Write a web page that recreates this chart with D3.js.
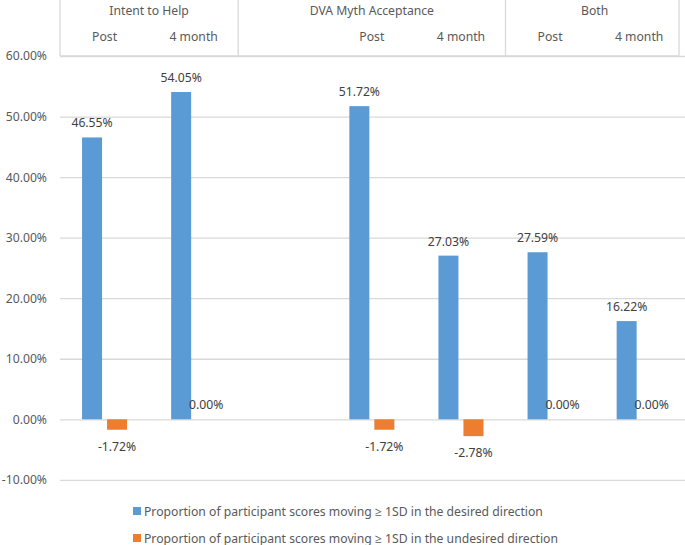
<!DOCTYPE html>
<html>
<head>
<meta charset="utf-8">
<script src="https://cdn.jsdelivr.net/npm/d3@7"></script>
<style>
  html, body { margin: 0; padding: 0; background: #fff; }
  svg { display: block; }
  text { font-family: "Noto Sans", "Open Sans", sans-serif; }
</style>
</head>
<body>
<svg id="chart" width="685" height="545"></svg>
<script>
// ---- data ----
const groups = ["Intent to Help", "DVA Myth Acceptance", "Both"];
const groupSpans = [2, 3, 2];
const categories = ["Post", "4 month", "", "Post", "4 month", "Post", "4 month"];
const desired = [0.4655, 0.5405, null, 0.5172, 0.2703, 0.2759, 0.1622];
const undesired = [-0.0172, 0.0000, null, -0.0172, -0.0278, 0.0000, 0.0000];
const yTicks = [-0.1, 0, 0.1, 0.2, 0.3, 0.4, 0.5, 0.6];
const seriesNames = [
  "Proportion of participant scores moving \u2265 1SD in the desired direction",
  "Proportion of participant scores moving \u2265 1SD in the undesired direction"
];
const seriesKeys = ["desired", "undesired"];
const colors = ["#5B9BD5", "#ED7D31"];

// ---- layout ----
const svg = d3.select("#chart");
const left = 60, right = 683.7, headerRight = 679;
const idx = d3.range(categories.length);

const x = d3.scaleBand().domain(idx).range([left, right]).padding(0);
const xs = d3.scaleBand().domain(seriesKeys).range([0, x.bandwidth()])
  .paddingInner(0.2).paddingOuter(0.882);
const y = d3.scaleLinear().domain([-0.1, 0.6]).range([479.85, 56.0]);

const gridColor = "#d9d9d9";
const labelColor = "#404040";
const axisColor = "#595959";
const pct = d3.format(".2%");
const fmt = v => pct(v).replace("\u2212", "-");

// gridlines
const grid = svg.append("g").attr("transform", `translate(${left},0)`)
  .call(d3.axisLeft(y).tickValues(yTicks).tickSize(-(685 - left)).tickFormat(""));
grid.select(".domain").remove();
grid.selectAll("line").attr("stroke", gridColor).attr("stroke-width", 1.3);

// y axis labels
const yAxis = svg.append("g").attr("transform", `translate(47,0)`)
  .call(d3.axisLeft(y).tickValues(yTicks).tickSize(0).tickPadding(0).tickFormat(fmt));
yAxis.select(".domain").remove();
yAxis.selectAll("text").attr("fill", axisColor).style("font-size", "12.2px")
  .style("font-family", "'Noto Sans', sans-serif");

// header table
const header = svg.append("g");
const headerBottom = y(0.6);
let start = 0;
const boundaries = [left];
groups.forEach((g, i) => {
  const a = x(start);
  const end = start + groupSpans[i];
  const b = end < categories.length ? x(end) : headerRight;
  header.append("text")
    .attr("x", (a + (end < categories.length ? x(end) : right)) / 2)
    .attr("y", 10)
    .attr("dominant-baseline", "central")
    .attr("text-anchor", "middle")
    .attr("fill", axisColor)
    .style("font-size", "12.2px")
    .text(g);
  boundaries.push(b);
  start = end;
});
boundaries.forEach(b => {
  header.append("line")
    .attr("x1", b).attr("x2", b).attr("y1", 0).attr("y2", headerBottom)
    .attr("stroke", gridColor).attr("stroke-width", 1.3);
});
header.append("line")
  .attr("x1", left).attr("x2", headerRight).attr("y1", headerBottom).attr("y2", headerBottom)
  .attr("stroke", gridColor).attr("stroke-width", 1.3);
header.selectAll("text.cat")
  .data(idx)
  .enter().append("text")
  .attr("class", "cat")
  .attr("x", i => x(i) + x.bandwidth() / 2)
  .attr("y", 36)
  .attr("dominant-baseline", "central")
  .attr("text-anchor", "middle")
  .attr("fill", axisColor)
  .style("font-size", "12.2px")
  .text(i => categories[i]);

// bars
const seriesData = [desired, undesired];
seriesData.forEach((vals, s) => {
  const key = seriesKeys[s];
  const pts = idx.filter(i => vals[i] !== null).map(i => ({ i, v: vals[i] }));
  svg.append("g").selectAll("rect")
    .data(pts)
    .enter().append("rect")
    .attr("x", d => x(d.i) + xs(key))
    .attr("width", xs.bandwidth())
    .attr("y", d => y(Math.max(0, d.v)))
    .attr("height", d => Math.abs(y(d.v) - y(0)))
    .attr("fill", colors[s]);
  svg.append("g").selectAll("text")
    .data(pts)
    .enter().append("text")
    .attr("x", d => x(d.i) + xs(key) + xs.bandwidth() / 2)
    .attr("y", d => d.v < 0 ? y(d.v) + 16.5 : y(d.v) - 14.5)
    .attr("dominant-baseline", "central")
    .attr("text-anchor", "middle")
    .attr("fill", labelColor)
    .style("font-size", "12.2px")
    .text(d => fmt(d.v));
});

// legend
const legend = svg.append("g");
seriesNames.forEach((name, s) => {
  const ly = 511 + s * 27;
  legend.append("rect")
    .attr("x", 133).attr("y", ly - 4).attr("width", 8).attr("height", 8)
    .attr("fill", colors[s]);
  legend.append("text")
    .attr("x", 144).attr("y", ly)
    .attr("dominant-baseline", "central")
    .attr("fill", axisColor)
    .style("font-size", "12.2px")
    .text(name);
});
</script>
</body>
</html>
